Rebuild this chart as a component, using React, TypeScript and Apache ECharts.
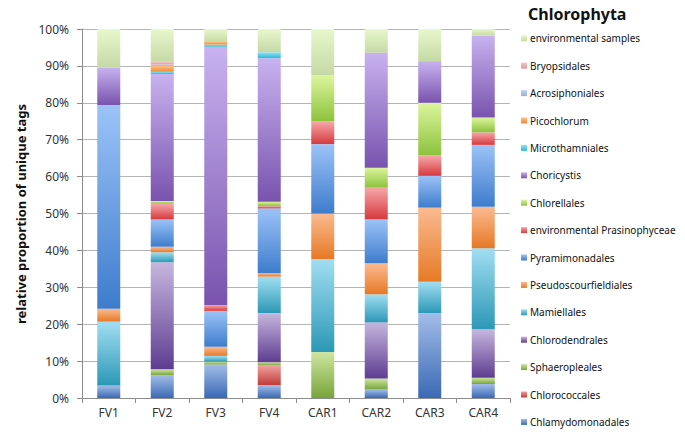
import React, { useEffect, useRef } from "react";
import * as echarts from "echarts";

const categories = ["FV1", "FV2", "FV3", "FV4", "CAR1", "CAR2", "CAR3", "CAR4"];
const yTicks = [0, 10, 20, 30, 40, 50, 60, 70, 80, 90, 100];

const chlamydomonadales = [3.4, 6.2, 9.1, 3.5, 0, 2.3, 23.0, 3.8];
const chlorococcales = [0, 0, 0, 5.4, 0, 0, 0, 0];
const sphaeropleales = [0, 1.6, 0.7, 0.8, 12.5, 3.0, 0, 1.7];
const chlorodendrales = [0, 29.0, 0, 13.3, 0, 15.2, 0, 13.1];
const mamiellales = [17.3, 2.7, 1.6, 9.9, 25.2, 7.6, 8.5, 22.0];
const pseudoscourfieldiales = [3.5, 1.5, 2.5, 0.9, 12.3, 8.4, 20.1, 11.2];
const pyramimonadales = [55.2, 7.4, 9.7, 17.6, 18.8, 11.9, 8.6, 16.8];
const envPrasinophyceae = [0, 4.2, 1.6, 0.6, 6.1, 8.6, 5.5, 3.4];
const chlorellales = [0, 0.8, 0, 1.2, 12.6, 5.4, 14.3, 4.0];
const choricystis = [10.2, 34.4, 70.0, 38.9, 0, 31.2, 11.3, 22.2];
const microthamniales = [0, 0.6, 0.6, 1.6, 0, 0, 0, 0];
const picochlorum = [0, 1.6, 0.7, 0, 0, 0, 0, 0];
const acrosiphoniales = [0, 0.4, 0, 0, 0, 0, 0, 0];
const bryopsidales = [0, 0.7, 0, 0, 0, 0, 0, 0];
const envSamples = [10.4, 8.9, 3.5, 6.3, 12.5, 6.4, 8.7, 1.8];

// bottom to top stack order
const seriesDefs: [string, number[], string, string][] = [
  ["Chlamydomonadales", chlamydomonadales, "#a3bde8", "#3a69b4"],
  ["Chlorococcales", chlorococcales, "#f2a3a1", "#c03b38"],
  ["Sphaeropleales", sphaeropleales, "#cfe6a2", "#78a53a"],
  ["Chlorodendrales", chlorodendrales, "#c6b6de", "#5e3d91"],
  ["Mamiellales", mamiellales, "#a2def2", "#2b98b6"],
  ["Pseudoscourfieldiales", pseudoscourfieldiales, "#fbba91", "#e67a25"],
  ["Pyramimonadales", pyramimonadales, "#9cc3f8", "#3e7ccc"],
  ["environmental Prasinophyceae", envPrasinophyceae, "#f6a7a9", "#d6393e"],
  ["Chlorellales", chlorellales, "#dcf59e", "#8cc23c"],
  ["Choricystis", choricystis, "#c8b2ef", "#7953ae"],
  ["Microthamniales", microthamniales, "#8fe3f5", "#2cb8d8"],
  ["Picochlorum", picochlorum, "#fcc08a", "#f2892c"],
  ["Acrosiphoniales", acrosiphoniales, "#c2d4f0", "#93b0df"],
  ["Bryopsidales", bryopsidales, "#f4c4c8", "#e29aa0"],
  ["environmental samples", envSamples, "#e8f7cc", "#c5d9a5"],
];

export default function App() {
  const ref = useRef<HTMLDivElement>(null);
  useEffect(() => {
    if (!ref.current) return;
    const chart = echarts.init(ref.current, null, { renderer: "svg" });
    const series = seriesDefs.map(([name, data, top, bottom]) => ({
      name,
      type: "bar",
      stack: "total",
      data,
      barWidth: 23,
      itemStyle: {
        color: new echarts.graphic.LinearGradient(0, 0, 0, 1, [
          { offset: 0, color: top },
          { offset: 1, color: bottom },
        ]),
      },
    }));
    chart.setOption({
      animation: false,
      backgroundColor: "#ffffff",
      grid: { left: 82, right: 175, top: 29, bottom: 42 },
      xAxis: {
        type: "category",
        data: categories,
        axisLine: { lineStyle: { color: "#8c8c8c", width: 1 } },
        axisTick: { show: true, length: 5, lineStyle: { color: "#8c8c8c" } },
        axisLabel: { color: "#333", fontSize: 12, fontFamily: "Noto Sans", margin: 8 },
      },
      yAxis: {
        type: "value",
        min: yTicks[0],
        max: yTicks[yTicks.length - 1],
        interval: 10,
        axisLine: { show: true, lineStyle: { color: "#8c8c8c", width: 1 } },
        axisTick: { show: true, length: 5, lineStyle: { color: "#8c8c8c" } },
        splitLine: { lineStyle: { color: "#b4b4b4", width: 1 } },
        axisLabel: {
          color: "#333",
          fontSize: 12,
          fontFamily: "Noto Sans",
          margin: 13,
          formatter: "{value}%",
        },
      },
      legend: {
        orient: "vertical",
        left: 521,
        top: 32.3,
        padding: 0,
        itemWidth: 6,
        itemHeight: 6,
        itemGap: 15.4,
        icon: "rect",
        data: seriesDefs.map((d) => d[0]).reverse(),
        textStyle: {
          fontSize: 10,
          lineHeight: 12,
          color: "#111",
          fontFamily: "Noto Sans",
          padding: [0, 0, 0, -2],
        },
        selectedMode: false,
      },
      graphic: [
        {
          type: "text",
          x: 528,
          y: 14,
          style: {
            text: "Chlorophyta",
            font: "bold 16px 'Noto Sans'",
            fill: "#111",
            textAlign: "left",
            textVerticalAlign: "middle",
          },
        },
        {
          type: "text",
          x: 21,
          y: 214,
          rotation: Math.PI / 2,
          style: {
            text: "relative proportion of unique tags",
            font: "bold 13px 'Noto Sans'",
            fill: "#111",
            textAlign: "center",
            textVerticalAlign: "middle",
          },
        },
      ],
      series,
    });
    return () => chart.dispose();
  }, []);
  return (
    <div
      ref={ref}
      style={{ position: "fixed", left: 0, top: 0, width: 685, height: 440 }}
    />
  );
}
